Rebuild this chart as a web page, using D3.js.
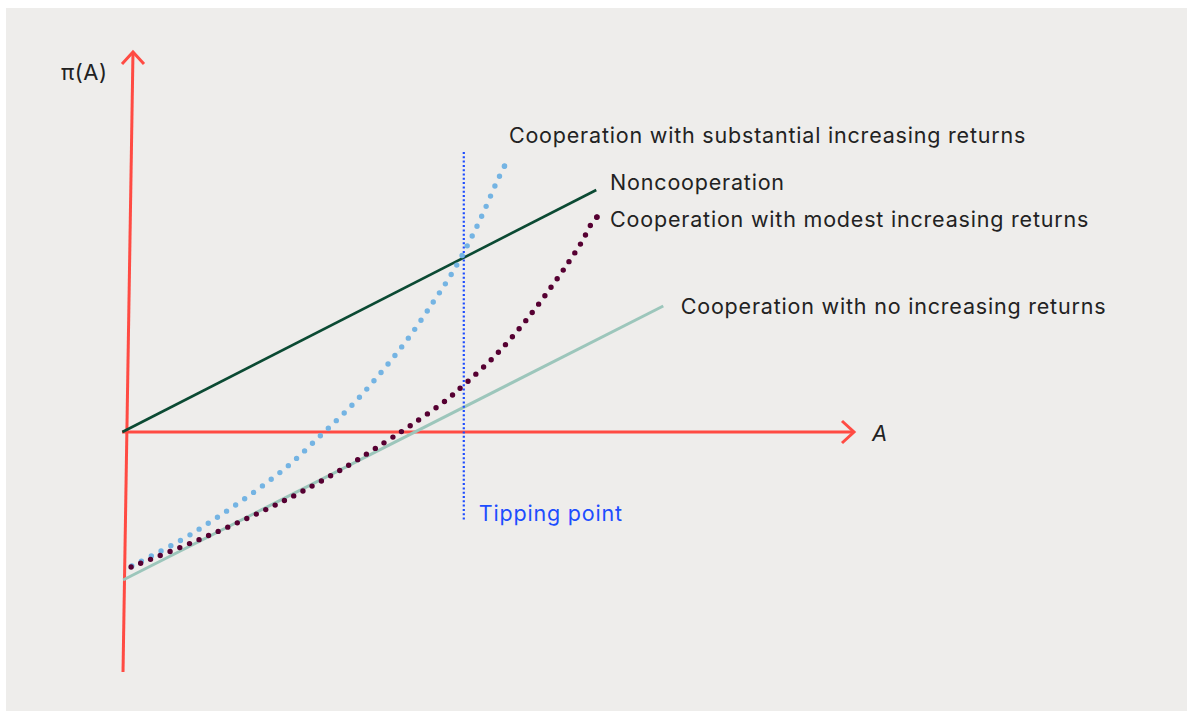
<!DOCTYPE html>
<html>
<head>
<meta charset="utf-8">
<script src="https://cdn.jsdelivr.net/npm/d3@7"></script>
<style>
  html, body { margin: 0; padding: 0; background: #ffffff; }
  svg { display: block; }
  text { font-family: "Inter", "Noto Sans", sans-serif; }
</style>
</head>
<body>
<script>
// Payoff π(A) against the share of adopters A, for cooperation and noncooperation.

// Straight payoff lines (A, π)
const noncoopA = [-0.05, 6.46];
const noncoopPi = [0, 4.84];
const noReturnsA = [-0.04, 7.38];
const noReturnsPi = [-2.96, 2.52];

// Cooperation with modest increasing returns
const modestA = [0.07, 0.76, 1.31, 1.85, 2.38, 3.04, 3.54, 3.92, 4.40, 4.64, 5.08, 5.51, 5.93, 6.10, 6.26, 6.40, 6.47];
const modestPi = [-2.70, -2.30, -1.96, -1.60, -1.22, -0.68, -0.22, 0.14, 0.64, 0.94, 1.54, 2.26, 3.08, 3.44, 3.80, 4.18, 4.30];

// Cooperation with substantial increasing returns
const substantialA = [0.08, 0.76, 1.26, 1.76, 2.24, 2.68, 3.12, 3.52, 3.89, 4.23, 4.48, 4.70, 4.90, 5.08, 5.20];
const substantialPi = [-2.68, -2.16, -1.70, -1.20, -0.66, -0.06, 0.56, 1.22, 1.90, 2.62, 3.18, 3.76, 4.36, 4.96, 5.32];

// Tipping point
const tippingA = 4.64;
const tippingPi = [5.6, -1.76];

// Axes extents (the vertical axis leans slightly)
const yAxisA = [0.096, -0.041];
const yAxisPi = [7.6, -4.8];
const xAxisA = [-0.055, 10];

// Labels
const curveLabels = [
  { text: "Cooperation with substantial increasing returns", a: 5.26, pi: 5.78 },
  { text: "Noncooperation", a: 6.65, pi: 4.84 },
  { text: "Cooperation with modest increasing returns", a: 6.65, pi: 4.10 },
  { text: "Cooperation with no increasing returns", a: 7.62, pi: 2.36 }
];
const tippingLabel = "Tipping point";
const yTitle = "π(A)";
const xTitle = "A";

const W = 1187, H = 711;
const svg = d3.select("body").append("svg").attr("width", W).attr("height", H);

// panel
svg.append("rect").attr("x", 6).attr("y", 8).attr("width", W - 6).attr("height", H - 8)
  .attr("fill", "#eeedeb");

const x = d3.scaleLinear().domain([0, 10]).range([126, 854]);
const y = d3.scaleLinear().domain([-5, 8]).range([682, 32]);

const line = d3.line().x(d => x(d[0])).y(d => y(d[1]));
const smooth = d3.line().x(d => x(d[0])).y(d => y(d[1])).curve(d3.curveCatmullRom.alpha(0.5));
const zip = (a, b) => a.map((v, i) => [v, b[i]]);

const axisColor = "#ff4b43";

// axes
svg.append("path").attr("d", line(zip(xAxisA, [0, 0])))
  .attr("stroke", axisColor).attr("stroke-width", 3).attr("fill", "none");
svg.append("path").attr("d", line(zip(yAxisA, yAxisPi)))
  .attr("stroke", axisColor).attr("stroke-width", 3).attr("fill", "none");

// arrow heads
const xTip = [x(xAxisA[1]), y(0)];
svg.append("path")
  .attr("d", `M${xTip[0] - 12},${xTip[1] - 11}L${xTip[0]},${xTip[1]}L${xTip[0] - 12},${xTip[1] + 11}`)
  .attr("stroke", axisColor).attr("stroke-width", 3).attr("fill", "none");
const yTip = [x(yAxisA[0]), y(yAxisPi[0])];
svg.append("path")
  .attr("d", `M${yTip[0] - 11},${yTip[1] + 12}L${yTip[0]},${yTip[1]}L${yTip[0] + 11},${yTip[1] + 12}`)
  .attr("stroke", axisColor).attr("stroke-width", 3).attr("fill", "none");

// no increasing returns
svg.append("path").attr("d", line(zip(noReturnsA, noReturnsPi)))
  .attr("stroke", "#9cc6bb").attr("stroke-width", 3).attr("fill", "none");

// noncooperation
svg.append("path").attr("d", line(zip(noncoopA, noncoopPi)))
  .attr("stroke", "#0b4a33").attr("stroke-width", 2.6).attr("fill", "none");

// tipping point
svg.append("path").attr("d", line([[tippingA, tippingPi[0]], [tippingA, tippingPi[1]]]))
  .attr("stroke", "#1d4dff").attr("stroke-width", 2.2).attr("fill", "none")
  .attr("stroke-dasharray", "2 2.3");

// dotted curve with a dot at each end
function dotted(points, color, step) {
  const p = svg.append("path").attr("d", smooth(points))
    .attr("stroke", color).attr("stroke-width", 5.4).attr("fill", "none")
    .attr("stroke-linecap", "round");
  const len = p.node().getTotalLength();
  const gap = len / Math.max(1, Math.round(len / step)) - 0.01;
  p.attr("stroke-dasharray", `0 ${gap}`);
  // closing dot at the curve's end
  const end = points[points.length - 1];
  svg.append("circle").attr("cx", x(end[0])).attr("cy", y(end[1])).attr("r", 2.7).attr("fill", color);
  return p;
}

// substantial increasing returns
dotted(zip(substantialA, substantialPi), "#74b4e3", 11);

// modest increasing returns
dotted(zip(modestA, modestPi), "#560032", 10.5);

// curve labels
svg.selectAll("text.curve").data(curveLabels).join("text")
  .attr("class", "curve")
  .attr("x", d => x(d.a)).attr("y", d => y(d.pi))
  .attr("font-size", 21.5).attr("letter-spacing", 0.8).attr("fill", "#222222")
  .text(d => d.text);

svg.append("text").attr("x", x(tippingA) + 15).attr("y", y(tippingPi[1]) + 1)
  .attr("font-size", 21.5).attr("letter-spacing", 0.8).attr("fill", "#1d4dff").text(tippingLabel);

svg.append("text").attr("x", 61).attr("y", 80)
  .attr("font-size", 22).attr("letter-spacing", 0.5).attr("fill", "#222222").text(yTitle);

svg.append("text").attr("x", 872).attr("y", 441)
  .attr("font-size", 22).attr("font-style", "italic").attr("fill", "#222222").text(xTitle);
</script>
</body>
</html>
